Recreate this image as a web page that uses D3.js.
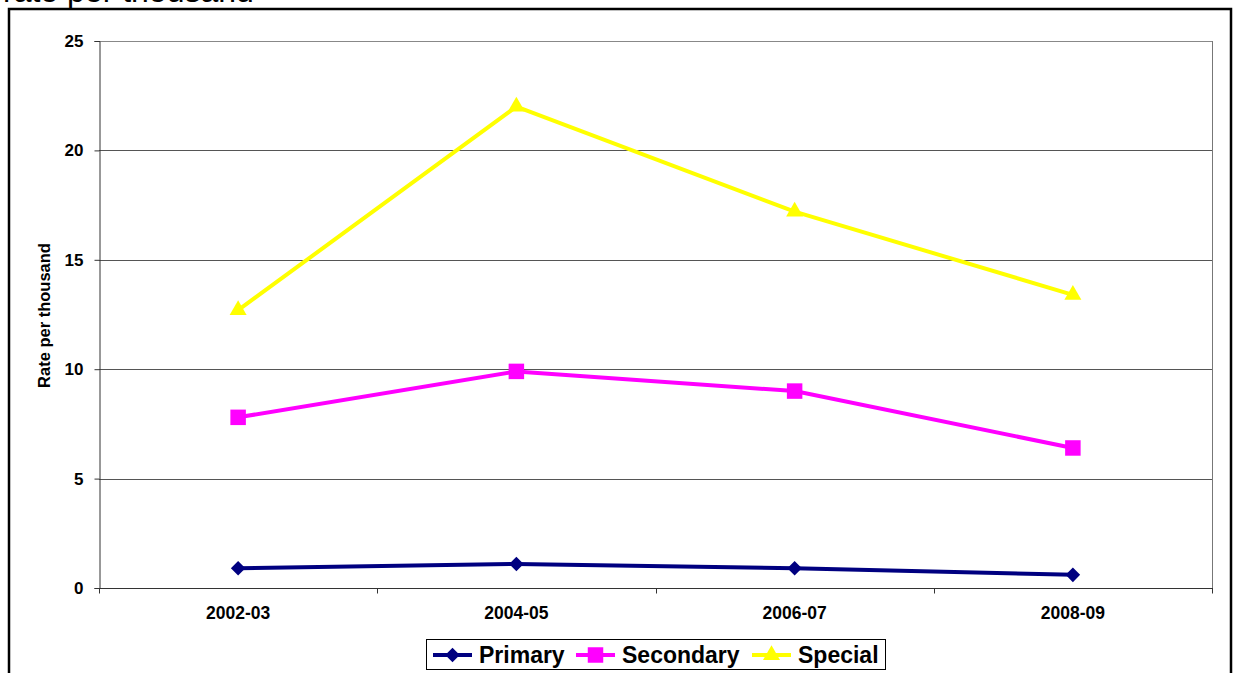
<!DOCTYPE html>
<html>
<head>
<meta charset="utf-8">
<script src="https://cdn.jsdelivr.net/npm/d3@7"></script>
<style>
  html, body { margin: 0; padding: 0; background: #fff; }
  svg { display: block; font-family: Arial, "Liberation Sans", sans-serif; }
</style>
</head>
<body>
<svg id="chart" width="1234" height="673"></svg>
<script>
// Exclusion rates by school type
const categories = ["2002-03", "2004-05", "2006-07", "2008-09"];
const primary = [0.9, 1.1, 0.9, 0.6];
const secondary = [7.8, 9.9, 9.0, 6.4];
const special = [12.7, 22.0, 17.2, 13.4];
const yTicks = [0, 5, 10, 15, 20, 25];

const series = [
  { name: "Primary", values: primary, color: "#000080", symbol: d3.symbolDiamond2, size: 135 },
  { name: "Secondary", values: secondary, color: "#FF00FF", symbol: d3.symbolSquare, size: 240 },
  { name: "Special", values: special, color: "#FFFF00", symbol: d3.symbolTriangle, size: 125 }
];

const FONT = "Arial, 'Liberation Sans', sans-serif";
const svg = d3.select("#chart");
const plot = { left: 99, right: 1212, top: 41, bottom: 588 };

// Outer frame (extends below the visible area)
svg.append("rect")
  .attr("x", 9).attr("y", 9).attr("width", 1222).attr("height", 700)
  .attr("fill", "none").attr("stroke", "#000").attr("stroke-width", 2.5);

// Heading, partly clipped at the top
svg.append("text")
  .attr("x", 3).attr("y", 2)
  .attr("font-size", 32)
  .attr("fill", "#000")
  .text("rate per thousand");

const x = d3.scaleBand().domain(categories).range([plot.left, plot.right]);
const y = d3.scaleLinear().domain([0, 25]).range([plot.bottom, plot.top]);

// Horizontal gridlines
svg.append("g").selectAll("line").data(yTicks.filter(d => d > 0)).join("line")
  .attr("x1", plot.left).attr("x2", plot.right)
  .attr("y1", d => Math.round(y(d)) + 0.5).attr("y2", d => Math.round(y(d)) + 0.5)
  .attr("stroke", d => d === 25 ? "#888" : "#555").attr("stroke-width", 1);

// Right border of plot area
svg.append("line")
  .attr("x1", plot.right + 0.5).attr("x2", plot.right + 0.5)
  .attr("y1", plot.top).attr("y2", plot.bottom)
  .attr("stroke", "#777").attr("stroke-width", 1);

// Y axis
const yAxis = svg.append("g")
  .attr("transform", `translate(${plot.left + 0.5},0)`)
  .call(d3.axisLeft(y).tickValues(yTicks).tickSize(5).tickPadding(11));
yAxis.select(".domain").attr("stroke", "#333");
yAxis.selectAll(".tick line").attr("stroke", "#333");
yAxis.selectAll(".tick text")
  .attr("font-size", 17).attr("font-weight", "bold").attr("fill", "#000")
  .attr("font-family", FONT);

// X axis with ticks at category boundaries
const xAxis = svg.append("g")
  .attr("transform", `translate(0,${plot.bottom + 0.5})`);
xAxis.append("line")
  .attr("x1", plot.left).attr("x2", plot.right + 1)
  .attr("stroke", "#333");
const bounds = categories.map(c => x(c)).concat([x(categories[categories.length - 1]) + x.bandwidth()]);
xAxis.selectAll("line.tk").data(bounds).join("line").attr("class", "tk")
  .attr("x1", d => Math.round(d) + 0.5).attr("x2", d => Math.round(d) + 0.5)
  .attr("y1", 0).attr("y2", 5).attr("stroke", "#333");
xAxis.selectAll("text").data(categories).join("text")
  .attr("x", d => x(d) + x.bandwidth() / 2)
  .attr("y", 30)
  .attr("text-anchor", "middle")
  .attr("font-size", 17.5).attr("font-weight", "bold").attr("fill", "#000")
  .text(d => d);

// Y axis title
svg.append("text")
  .attr("transform", `translate(50,${(plot.top + plot.bottom) / 2 + 1}) rotate(-90)`)
  .attr("text-anchor", "middle")
  .attr("font-size", 16.5).attr("font-weight", "bold").attr("fill", "#000")
  .text("Rate per thousand");

// Series lines and markers
const cx = c => x(c) + x.bandwidth() / 2;
const line = d3.line().x((d, i) => cx(categories[i])).y(d => y(d));

series.forEach(s => {
  const g = svg.append("g");
  g.append("path")
    .attr("d", line(s.values))
    .attr("fill", "none").attr("stroke", s.color).attr("stroke-width", 4)
    .attr("stroke-linejoin", "round");
  g.selectAll("path.m").data(s.values).join("path").attr("class", "m")
    .attr("transform", (d, i) => `translate(${cx(categories[i])},${y(d)})`)
    .attr("d", d3.symbol().type(s.symbol).size(s.size))
    .attr("fill", s.color);
});

// Legend
const legend = svg.append("g");
legend.append("rect")
  .attr("x", 426.5).attr("y", 639.5).attr("width", 459).attr("height", 30)
  .attr("fill", "#fff").attr("stroke", "#000").attr("stroke-width", 1);

const legendX = [433, 576, 752];
series.forEach((s, i) => {
  const x0 = legendX[i];
  const cy = 655;
  legend.append("line")
    .attr("x1", x0).attr("x2", x0 + 39).attr("y1", cy).attr("y2", cy)
    .attr("stroke", s.color).attr("stroke-width", 4);
  legend.append("path")
    .attr("transform", `translate(${x0 + 19.5},${cy})`)
    .attr("d", d3.symbol().type(s.symbol).size(s.size))
    .attr("fill", s.color);
  legend.append("text")
    .attr("x", x0 + 46).attr("y", cy + 8)
    .attr("font-size", 23).attr("font-weight", "bold").attr("fill", "#000")
    .text(s.name);
});
</script>
</body>
</html>
